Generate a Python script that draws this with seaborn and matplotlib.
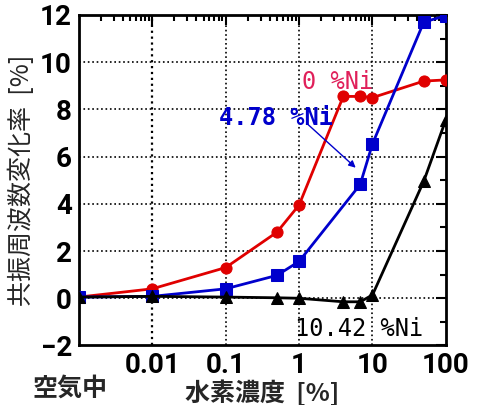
import matplotlib
matplotlib.use("Agg")
import matplotlib.pyplot as plt
import matplotlib.ticker as mticker
import matplotlib.transforms as mtransforms
import seaborn as sns

sns.set_theme(style="white")
plt.rcParams['font.family'] = ['Noto Sans CJK JP', 'DejaVu Sans']

# hydrogen concentration [%]; 0.001 stands for the "in air" point
conc_ni0 = [0.001, 0.01, 0.1, 0.5, 1, 4, 6.8, 10, 50, 100]
rate_ni0 = [0.05, 0.4, 1.3, 2.8, 3.95, 8.55, 8.55, 8.5, 9.2, 9.25]

conc_ni478 = [0.001, 0.01, 0.1, 0.5, 1, 6.8, 10, 50, 100]
rate_ni478 = [0.05, 0.08, 0.4, 0.97, 1.56, 4.82, 6.54, 11.7, 11.97]

conc_ni1042 = [0.001, 0.01, 0.1, 0.5, 1, 4, 6.8, 10, 50, 100]
rate_ni1042 = [0.05, 0.08, 0.05, 0.02, 0.0, -0.15, -0.15, 0.14, 4.96, 7.57]

x_ticks = [0.01, 0.1, 1, 10, 100]
x_tick_labels = ["0.01", "0.1", "1", "10", "100"]
y_ticks = [-2, 0, 2, 4, 6, 8, 10, 12]

fig = plt.figure(figsize=(4.81, 4.05), dpi=100)
ax = fig.add_axes([0.164, 0.147, 0.763, 0.816])

for xs, ys, col, mk in [
    (conc_ni0, rate_ni0, "#e00000", "o"),
    (conc_ni478, rate_ni478, "#0000cc", "s"),
    (conc_ni1042, rate_ni1042, "black", "^"),
]:
    sns.lineplot(x=xs, y=ys, color=col, marker=mk, markersize=8,
                 markeredgecolor=col, linewidth=2, sort=False, ax=ax, zorder=3)

ax.set_xscale("log")
ax.set_xlim(0.001, 100)
ax.set_ylim(-2, 12)
ax.set_xticks(x_ticks)
ax.set_xticklabels(x_tick_labels)
ax.set_yticks(y_ticks)
ax.yaxis.set_minor_locator(mticker.MultipleLocator(1))
ax.xaxis.set_minor_locator(mticker.LogLocator(base=10, subs=range(2, 10), numticks=20))
ax.xaxis.set_minor_formatter(mticker.NullFormatter())

tick_font = dict(family=['Roboto'], weight='bold', size=20)
shift = mtransforms.ScaledTranslation(0, -5 / 72, fig.dpi_scale_trans)
for lab in ax.get_xticklabels() + ax.get_yticklabels():
    lab.set_fontproperties(tick_font)
for lab in ax.get_yticklabels():
    lab.set_transform(lab.get_transform() + shift)

ax.tick_params(which="both", direction="in", top=True, right=True, width=1.5, colors="black")
ax.tick_params(which="major", length=7)
ax.tick_params(axis="x", which="major", pad=5)
ax.tick_params(axis="y", which="major", pad=5)
ax.tick_params(which="minor", length=4)

for v in [0.01, 0.1, 1, 10]:
    ax.axvline(v, color="black", linestyle=":", linewidth=1.6 if v == 0.01 else 1.2, zorder=1)
for v in [0, 2, 4, 6, 8, 10]:
    ax.axhline(v, color="black", linestyle=":", linewidth=1.2, zorder=1)

for s in ax.spines.values():
    s.set_color("black")
    s.set_linewidth(2)

ax.set_xlabel("水素濃度  [%]", fontsize=18, fontweight="bold", labelpad=0)
ax.set_ylabel("共振周波数変化率  [%]", fontsize=18, labelpad=4)
ax.text(-0.125, -0.13, "空気中", transform=ax.transAxes, fontsize=18,
        fontweight="bold", ha="left", va="center")

mono = ['DejaVu Sans Mono']
ax.text(1.09, 9.17, "0 %Ni", color="#e0205a", fontsize=17, family=mono, ha="left", va="center")
ax.text(0.081, 7.65, "4.78 %Ni", color="#0000cc", fontsize=17, family=mono,
        fontweight="bold", ha="left", va="center")
ax.text(0.88, -1.31, "10.42 %Ni", color="black", fontsize=17, family=mono, ha="left", va="center")
ax.annotate("", xy=(6.3, 5.45), xytext=(1.2, 7.48),
            arrowprops=dict(arrowstyle="-|>", color="#0000cc", lw=1, mutation_scale=10))

fig.savefig("out.png", dpi=100)
